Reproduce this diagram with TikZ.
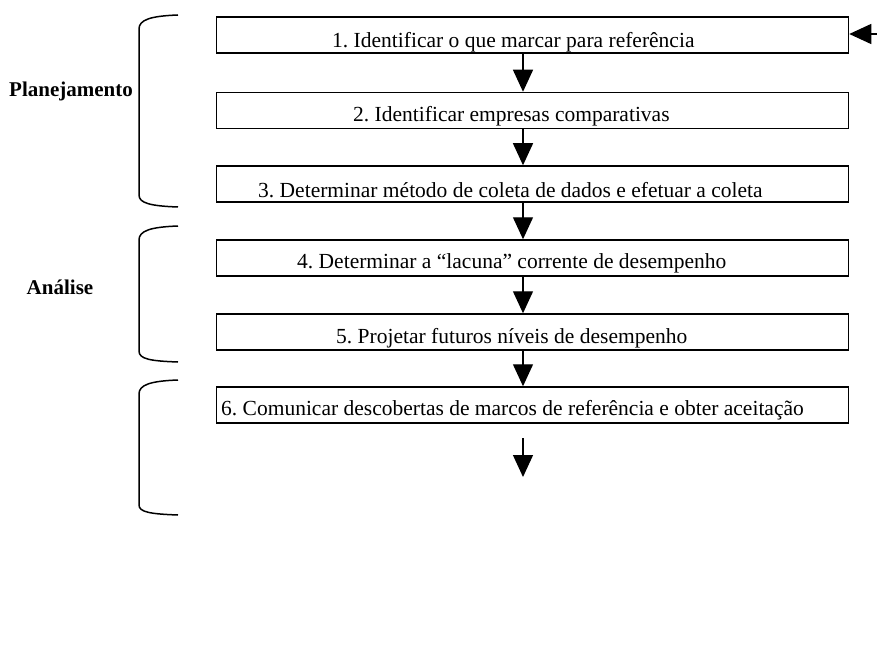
\documentclass[tikz,border=0pt]{standalone}
\usepackage{fontspec}
\setmainfont{Liberation Serif}
\usetikzlibrary{arrows.meta}
\tikzset{
    etapa/.style={draw, line width=1.5pt, minimum width=632pt, minimum height=36pt, inner sep=0pt},
    texto/.style={inner sep=0pt, anchor=base west, font=\fontsize{21.5}{24}\selectfont},
    rotulo/.style={inner sep=0pt, anchor=base, font=\fontsize{21}{24}\selectfont\bfseries},
    seta/.style={line width=1.3pt, -{Triangle[length=22pt, width=20pt]}},
    chave/.style={line width=1.5pt},
}
\frenchspacing

\begin{document}
\begin{tikzpicture}[x=1pt, y=-1pt]
\useasboundingbox (0,0) rectangle (877,647);
% etapas
\node[etapa] (b1) at (532.5,35) {};
\node[etapa] (b2) at (532.5,110.5) {};
\node[etapa] (b3) at (532.5,184) {};
\node[etapa] (b4) at (532.5,258) {};
\node[etapa] (b5) at (532.5,332) {};
\node[etapa] (b6) at (532.5,405) {};
\node[texto] (t1) at (332,48) {1. Identificar o que marcar para referência};
\node[texto] (t2) at (353,122) {2. Identificar empresas comparativas};
\node[texto] (t3) at (258,197) {3. Determinar método de coleta de dados e efetuar a coleta};
\node[texto] (t4) at (297,268) {4. Determinar a “lacuna” corrente de desempenho};
\node[texto] (t5) at (336,343) {5. Projetar futuros níveis de desempenho};
\node[texto] (t6) at (221,415) {6. Comunicar descobertas de marcos de referência e obter aceitação};
% setas
\foreach \a/\b in {b1/b2, b2/b3, b3/b4, b4/b5, b5/b6}
    \draw[seta] ([xshift=-9.5pt]\a.south) -- ([xshift=-9.5pt]\b.north);
\coordinate (fimtopo) at (523,438);
\coordinate (fimponta) at (523,477);
\draw[seta] (fimtopo) -- (fimponta);
\coordinate (retorno) at (877,34);
\draw[seta] (retorno) -- (b1.east |- retorno);
% chaves
\draw[chave] (178,15) .. controls (150,16) and (139,20) .. (139,29) -- (139,195) .. controls (139,203) and (150,206) .. (178,207);
\draw[chave] (178,226) .. controls (150,227) and (139,231) .. (139,240) -- (139,351) .. controls (139,359) and (150,361) .. (178,362);
\draw[chave] (178,380) .. controls (150,381) and (139,385) .. (139,394) -- (139,505) .. controls (139,512) and (150,514) .. (178,515);
\node[rotulo] (planejamento) at (71,97) {Planejamento};
\node[rotulo] (analise) at (60,294) {Análise};
\end{tikzpicture}
\end{document}
